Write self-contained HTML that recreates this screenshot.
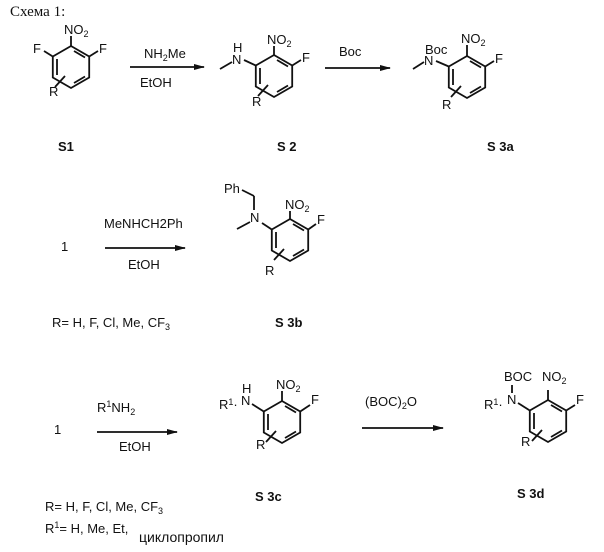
<!DOCTYPE html>
<html><head><meta charset="utf-8"><style>
body{margin:0;background:#fff}
svg{display:block}
text{font-family:"Liberation Sans",Arial,sans-serif;font-size:13px;fill:#111}
.b{font-weight:bold}
</style></head><body>
<svg width="604" height="552" viewBox="0 0 604 552" stroke="#111" stroke-width="1.8" fill="none">
<defs>
<g id="ring">
<polygon points="0,-21 18.2,-10.5 18.2,10.5 0,21 -18.2,10.5 -18.2,-10.5"/>
<line x1="-14" y1="-8" x2="-14" y2="8"/>
<line x1="3" y1="-16" x2="14" y2="-9.5"/>
<line x1="3" y1="16" x2="14" y2="9.5"/>
<line x1="-6" y1="9" x2="-16" y2="20"/>
</g>
<marker id="ar" markerWidth="11" markerHeight="6" refX="10" refY="3" orient="auto" markerUnits="userSpaceOnUse"><path d="M0,0 L11,3 L0,6 z" fill="#111" stroke="none"/></marker>
</defs>
<text x="10" y="16" stroke="none" style="font-family:'Liberation Serif',serif;font-size:15px">Схема 1:</text>

<!-- S1 -->
<use href="#ring" x="71" y="67"/>
<line x1="71" y1="46" x2="71" y2="36"/>
<line x1="52.8" y1="56.5" x2="44" y2="51"/>
<line x1="89.2" y1="56.5" x2="98" y2="51"/>
<g stroke="none"><text x="64" y="34">NO<tspan font-size="9" dy="3">2</tspan></text>
<text x="33" y="53">F</text><text x="99" y="53">F</text><text x="49" y="96">R</text>
<text x="58" y="151" class="b">S1</text></g>

<line x1="130" y1="67" x2="204" y2="67" marker-end="url(#ar)"/>
<g stroke="none"><text x="144" y="58">NH<tspan font-size="9" dy="3">2</tspan><tspan dy="-3">Me</tspan></text>
<text x="140" y="87">EtOH</text></g>

<!-- S2 -->
<use href="#ring" x="274" y="76"/>
<line x1="274" y1="55" x2="274" y2="46"/>
<line x1="292.2" y1="65.5" x2="301" y2="60"/>
<line x1="255.8" y1="65.5" x2="244" y2="60"/>
<line x1="232" y1="62" x2="220" y2="69"/>
<g stroke="none"><text x="267" y="44">NO<tspan font-size="9" dy="3">2</tspan></text>
<text x="233" y="52">H</text><text x="232" y="64">N</text>
<text x="302" y="62">F</text><text x="252" y="106">R</text>
<text x="277" y="151" class="b">S 2</text></g>

<line x1="325" y1="68" x2="390" y2="68" marker-end="url(#ar)"/>
<text x="339" y="56" stroke="none">Boc</text>

<!-- S3a -->
<use href="#ring" x="467" y="77"/>
<line x1="467" y1="56" x2="467" y2="45"/>
<line x1="485.2" y1="66.5" x2="494" y2="61"/>
<line x1="448.8" y1="66.5" x2="436" y2="61"/>
<line x1="424" y1="62" x2="413" y2="69"/>
<g stroke="none"><text x="461" y="43">NO<tspan font-size="9" dy="3">2</tspan></text>
<text x="425" y="54">Boc</text><text x="424" y="65">N</text>
<text x="495" y="63">F</text><text x="442" y="109">R</text>
<text x="487" y="151" class="b">S 3a</text></g>

<!-- row 2 -->
<text x="61" y="251" stroke="none">1</text>
<line x1="105" y1="248" x2="185" y2="248" marker-end="url(#ar)"/>
<g stroke="none"><text x="104" y="228">MeNHCH2Ph</text><text x="128" y="269">EtOH</text></g>
<use href="#ring" x="290" y="240"/>
<line x1="290" y1="219" x2="290" y2="211"/>
<line x1="308.2" y1="229.5" x2="316" y2="224"/>
<line x1="271.8" y1="229.5" x2="262" y2="223"/>
<line x1="250" y1="222" x2="237" y2="229"/>
<line x1="254" y1="210" x2="254" y2="196"/>
<line x1="254" y1="196" x2="242" y2="190"/>
<g stroke="none"><text x="224" y="193">Ph</text>
<text x="285" y="209">NO<tspan font-size="9" dy="3">2</tspan></text>
<text x="250" y="222">N</text><text x="317" y="224">F</text><text x="265" y="275">R</text>
<text x="52" y="327">R= H, F, Cl, Me, CF<tspan font-size="9" dy="3">3</tspan></text>
<text x="275" y="327" class="b">S 3b</text></g>

<!-- row 3 -->
<text x="54" y="434" stroke="none">1</text>
<line x1="97" y1="432" x2="177" y2="432" marker-end="url(#ar)"/>
<g stroke="none"><text x="97" y="412">R<tspan font-size="9" dy="-5">1</tspan><tspan dy="5">NH</tspan><tspan font-size="9" dy="3">2</tspan></text>
<text x="119" y="451">EtOH</text></g>
<use href="#ring" x="282" y="422"/>
<line x1="282" y1="401" x2="282" y2="391"/>
<line x1="300.2" y1="411.5" x2="310" y2="405"/>
<line x1="263.8" y1="411.5" x2="252" y2="404"/>
<g stroke="none"><text x="276" y="389">NO<tspan font-size="9" dy="3">2</tspan></text>
<text x="242" y="393">H</text><text x="241" y="405">N</text>
<text x="219" y="409">R<tspan font-size="9" dy="-4">1</tspan><tspan dy="4">·</tspan></text>
<text x="311" y="404">F</text><text x="256" y="449">R</text>
<text x="365" y="406">(BOC)<tspan font-size="9" dy="3">2</tspan><tspan dy="-3">O</tspan></text>
<text x="255" y="501" class="b">S 3c</text></g>
<line x1="362" y1="428" x2="443" y2="428" marker-end="url(#ar)"/>

<use href="#ring" x="548" y="421"/>
<line x1="548" y1="400" x2="548" y2="390"/>
<line x1="566.2" y1="410.5" x2="575" y2="405"/>
<line x1="529.8" y1="410.5" x2="518" y2="403"/>
<line x1="512" y1="393" x2="512" y2="385"/>
<g stroke="none"><text x="504" y="381">BOC</text>
<text x="542" y="381">NO<tspan font-size="9" dy="3">2</tspan></text>
<text x="507" y="404">N</text>
<text x="484" y="409">R<tspan font-size="9" dy="-4">1</tspan><tspan dy="4">·</tspan></text>
<text x="576" y="404">F</text><text x="521" y="446">R</text>
<text x="517" y="498" class="b">S 3d</text>
<text x="45" y="511">R= H, F, Cl, Me, CF<tspan font-size="9" dy="3">3</tspan></text>
<text x="45" y="533">R<tspan font-size="9" dy="-5">1</tspan><tspan dy="5">= H, Me, Et, </tspan></text>
<text x="139" y="542" style="font-size:14px">циклопропил</text></g>
</svg>
</body></html>
